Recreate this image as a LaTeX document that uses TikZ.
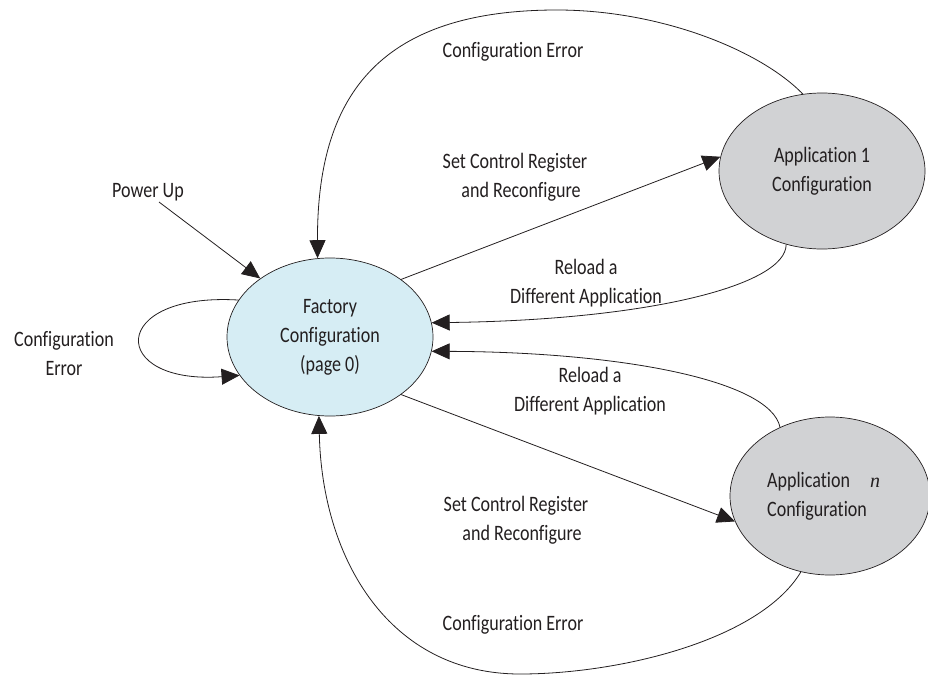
\documentclass[tikz,border=0pt]{standalone}
\usepackage{fontspec}
\setmainfont[FakeStretch=0.82,Ligatures=NoCommon]{Carlito}
\newfontfamily\nserif{Liberation Serif}
\usetikzlibrary{arrows.meta,shapes.geometric}
\definecolor{ink}{HTML}{231F20}
\definecolor{factfill}{HTML}{D6EDF4}
\definecolor{appfill}{HTML}{D1D2D4}
\begin{document}
\begin{tikzpicture}[x=1pt,y=-1pt,
  state/.style={ellipse, draw=ink, line width=0.7pt, inner sep=0pt,
    font=\fontsize{22}{29}\selectfont, text=ink, align=center},
  lbl/.style={font=\fontsize{22}{29}\selectfont, text=ink, align=center, inner sep=0pt},
  conn/.style={draw=ink, line width=0.8pt, -{Triangle[length=18pt,width=16pt]}},
]
\useasboundingbox (0,0) rectangle (928,674);

% states
\node[state, fill=factfill, minimum width=206pt, minimum height=158pt] (fac) at (330,337)
  {Factory\\Configuration\\(page 0)};
\node[state, fill=appfill, minimum width=206pt, minimum height=156pt] (a1) at (822,171)
  {Application 1\\Configuration};
\node[state, fill=appfill, minimum width=200pt, minimum height=158pt] (an) at (830,496) {};
\node[lbl, align=left, anchor=west] (antext) at (767,496)
  {Application\hspace{20pt}{\nserif\itshape\fontsize{20}{29}\selectfont n}\\Configuration};

% labels
\node[lbl] (lpu) at (148,192) {Power Up};
\node[lbl] (lloop) at (64,354) {Configuration\\Error};
\node[lbl] (ltop) at (513,52) {Configuration Error};
\node[lbl] (lset1) at (515,177) {Set Control Register\\\hspace*{12pt}and Reconfigure};
\node[lbl] (lrel1) at (586,283) {Reload a\\Different Application};
\node[lbl] (lrel2) at (590,391) {Reload a\\Different Application};
\node[lbl] (lset2) at (516,520) {Set Control Register\\\hspace*{12pt}and Reconfigure};
\node[lbl] (lbot) at (513,625) {Configuration Error};

\coordinate (pu) at (159,202);

% connectors
\draw[conn] (pu) -- (fac.140.4);
\draw[conn] (fac.158.6) .. controls (108,292) and (108,385) .. (fac.203.9);
\draw[conn] (a1.104.4) .. controls (760,50) and (660,10) .. (557,10)
  .. controls (375,10) and (317,100) .. (fac.99.3);
\draw[conn] (fac.39.8) -- (a1.172.7);
\draw[conn] (a1.244.7) .. controls (786,285) and (650,320) .. (fac.8.3);
\draw[conn] (an.126.3) .. controls (770,380) and (620,352) .. (fac.-8.8);
\draw[conn] (fac.-39.3) -- (an.195.3);
\draw[conn] (an.249.8) .. controls (760,640) and (620,674) .. (520,674)
  .. controls (390,674) and (322,560) .. (fac.262.9);
\end{tikzpicture}
\end{document}
